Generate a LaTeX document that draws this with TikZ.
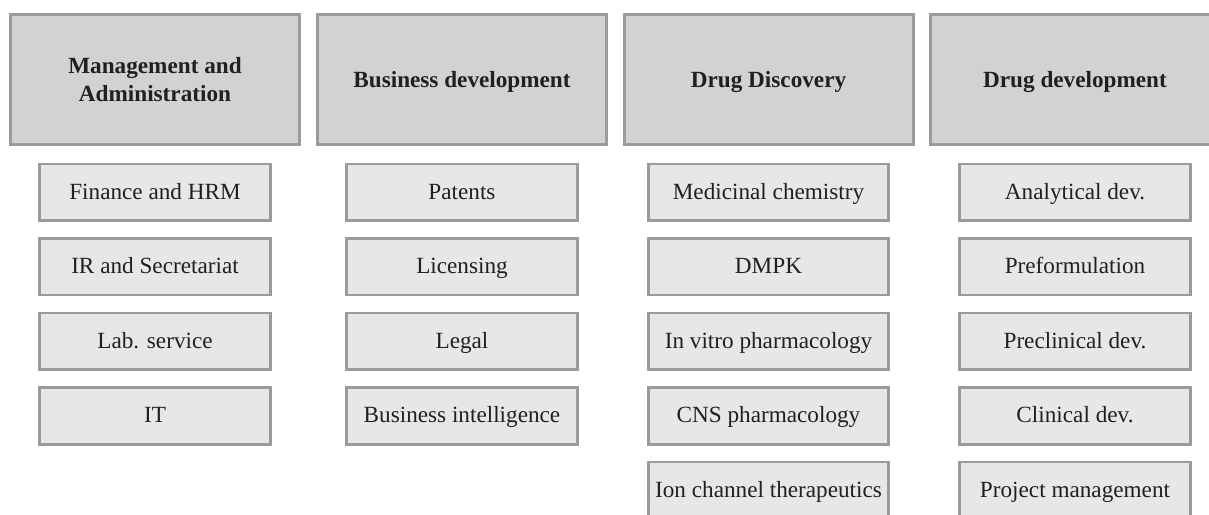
\documentclass[tikz,border=0pt]{standalone}
\usepackage{fontspec}
\setmainfont{Liberation Serif}
\definecolor{edgegray}{HTML}{9A9B9D}
\definecolor{headfill}{HTML}{D1D2D4}
\definecolor{itemfill}{HTML}{E6E7E8}
\definecolor{inkdark}{HTML}{231F20}
\begin{document}
\begin{tikzpicture}[x=1pt,y=-1pt,
  boxbase/.style={draw=edgegray, text=inkdark, inner sep=0pt, align=center},
  headbox/.style={boxbase, line width=3pt, fill=headfill,
    minimum width=289pt, minimum height=130pt,
    font=\fontsize{23.2}{27.5}\selectfont\bfseries},
  headline/.style={headbox, text height=22.6pt, text depth=5.8pt},
  itembox/.style={boxbase, line width=2.6pt, fill=itemfill,
    minimum width=231pt, minimum height=56.5pt,
    text height=19.7pt, text depth=5.8pt,
    font=\fontsize{23.2}{27.5}\selectfont},
  widebox/.style={itembox, minimum width=240pt}]
\clip (0,0) rectangle (1209,514);
\fill[white] (0,0) rectangle (1209,514);

% column headers
\node[headbox] (h1) at (155,79.5) {Management and\\Administration};
\node[headline] (h2) at (462,79.5) {Business development};
\node[headline] (h3) at (768.5,79.5) {Drug Discovery};
\node[headline] (h4) at (1075,79.5) {Drug development};

% Management and Administration
\node[itembox] (a1) at (155,192.2) {Finance and HRM};
\node[itembox] (a2) at (155,266.7) {IR and Secretariat};
\node[itembox] (a3) at (155,341.3) {Lab. service};
\node[itembox] (a4) at (155,416) {IT};

% Business development
\node[itembox] (b1) at (462,192.2) {Patents};
\node[itembox] (b2) at (462,266.7) {Licensing};
\node[itembox] (b3) at (462,341.3) {Legal};
\node[itembox] (b4) at (462,416) {Business intelligence};

% Drug Discovery
\node[widebox] (c1) at (768.5,192.2) {Medicinal chemistry};
\node[widebox] (c2) at (768.5,266.7) {DMPK};
\node[widebox] (c3) at (768.5,341.3) {In vitro pharmacology};
\node[widebox] (c4) at (768.5,416) {CNS pharmacology};
\node[widebox] (c5) at (768.5,490.3) {Ion channel therapeutics};

% Drug development
\node[itembox] (d1) at (1075,192.2) {Analytical dev.};
\node[itembox] (d2) at (1075,266.7) {Preformulation};
\node[itembox] (d3) at (1075,341.3) {Preclinical dev.};
\node[itembox] (d4) at (1075,416) {Clinical dev.};
\node[itembox] (d5) at (1075,490.3) {Project management};
\end{tikzpicture}
\end{document}
